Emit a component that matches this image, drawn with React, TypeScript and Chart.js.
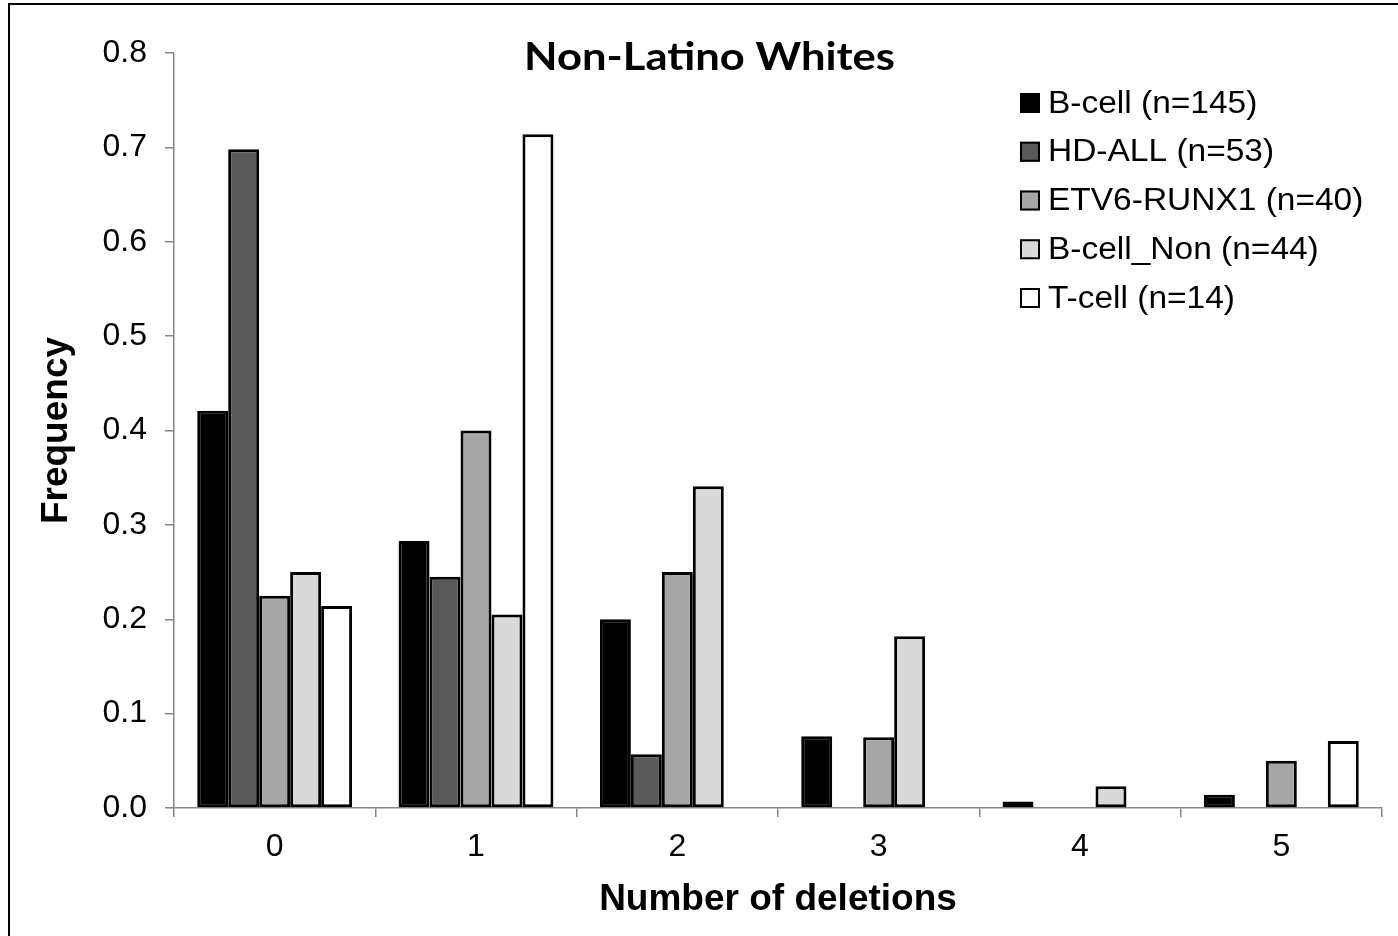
import React, { useEffect, useRef } from "react";
import { Chart, registerables } from "chart.js";

Chart.register(...registerables);

const categories = ["0", "1", "2", "3", "4", "5"];
const seriesNames = [
  "B-cell (n=145)",
  "HD-ALL (n=53)",
  "ETV6-RUNX1 (n=40)",
  "B-cell_Non (n=44)",
  "T-cell (n=14)",
];
const bCell = [0.421, 0.283, 0.2, 0.076, 0.007, 0.014];
const hdAll = [0.698, 0.245, 0.057, 0, 0, 0];
const etv6 = [0.225, 0.4, 0.25, 0.075, 0, 0.05];
const bCellNon = [0.25, 0.205, 0.341, 0.182, 0.023, 0];
const tCell = [0.214, 0.714, 0, 0, 0, 0.071];
const seriesValues = [bCell, hdAll, etv6, bCellNon, tCell];
const seriesColors = ["#000000", "#595959", "#a6a6a6", "#d9d9d9", "#ffffff"];
const yTicks = [0, 0.1, 0.2, 0.3, 0.4, 0.5, 0.6, 0.7, 0.8];

const titleText = "Non-Latino Whites";
const xTitle = "Number of deletions";
const yTitle = "Frequency";

const AXIS_GRAY = "#868686";

const decorPlugin = {
  id: "decor",
  afterDraw(chart: any) {
    const ctx = chart.ctx;
    ctx.save();
    // frame
    ctx.strokeStyle = "#000";
    ctx.lineWidth = 2;
    ctx.strokeRect(9, 4, chart.width + 20, chart.height + 20);

    // title
    ctx.fillStyle = "#000";
    ctx.font = "bold 39px Lato, 'Open Sans', sans-serif";
    ctx.textBaseline = "alphabetic";
    ctx.textAlign = "left";
    const tw = ctx.measureText(titleText).width;
    const targetW = 371;
    const sx = targetW / tw;
    ctx.save();
    ctx.translate(709.5 - targetW / 2, 70);
    ctx.scale(sx, 1);
    ctx.fillText(titleText, 0, 0);
    ctx.restore();

    // legend
    const boxX = 1020;
    const rowY0 = 103;
    const rowStep = 48.75;
    chart.data.datasets.forEach((ds: any, i: number) => {
      const cy = rowY0 + i * rowStep;
      ctx.fillStyle = ds.backgroundColor;
      ctx.fillRect(boxX, cy - 10, 20, 20);
      ctx.strokeStyle = "#000";
      ctx.lineWidth = 2;
      ctx.strokeRect(boxX + 1, cy - 9, 18, 18);
      ctx.fillStyle = "#000";
      ctx.font = "31px 'Liberation Sans', Arial, sans-serif";
      ctx.textBaseline = "middle";
      ctx.save();
      ctx.translate(1048, cy + 1);
      ctx.scale(1.08, 1);
      ctx.fillText(ds.label, 0, 0);
      ctx.restore();
    });
    ctx.restore();
  },
};

export default function App() {
  const ref = useRef<HTMLCanvasElement>(null);

  useEffect(() => {
    document.body.style.margin = "0";
    const canvas = ref.current!;
    const chart = new Chart(canvas, {
      type: "bar",
      data: {
        labels: categories,
        datasets: seriesValues.map((vals, i) => ({
          label: seriesNames[i],
          data: vals,
          backgroundColor: seriesColors[i],
          borderColor: "#000000",
          borderWidth: (c: any) => (c.raw === 0 ? 0 : 3),
          borderSkipped: false,
          barPercentage: 1,
          categoryPercentage: 5 / 6.5,
        })),
      },
      options: {
        responsive: false,
        animation: false,
        layout: { padding: { left: 0, right: 16, top: 53, bottom: 0 } },
        plugins: {
          legend: { display: false },
          title: { display: false },
          tooltip: { enabled: false },
        },
        scales: {
          x: {
            type: "category",
            offset: true,
            grid: {
              display: true,
              drawOnChartArea: false,
              drawTicks: true,
              tickLength: 9,
              color: AXIS_GRAY,
              lineWidth: 1.5,
              offset: true,
            },
            border: { display: true, color: AXIS_GRAY, width: 1.5 },
            ticks: {
              color: "#000",
              padding: 11,
              font: { family: "'Liberation Sans', Arial, sans-serif", size: 32 },
            },
            title: {
              display: true,
              text: xTitle,
              color: "#000",
              font: { family: "'Liberation Sans', Arial, sans-serif", size: 37, weight: "bold" },
              padding: { top: 0, bottom: 14 },
            },
            afterFit(scale: any) {
              scale.height = 128;
            },
          },
          y: {
            type: "linear",
            min: 0,
            max: 0.8,
            afterBuildTicks(scale: any) {
              scale.ticks = yTicks.map((v) => ({ value: v }));
            },
            grid: {
              display: true,
              drawOnChartArea: false,
              drawTicks: true,
              tickLength: 9,
              color: AXIS_GRAY,
              lineWidth: 1.5,
            },
            border: { display: true, color: AXIS_GRAY, width: 1.5 },
            ticks: {
              color: "#000",
              padding: 18,
              font: { family: "'Liberation Sans', Arial, sans-serif", size: 32 },
              callback: (v: any) => Number(v).toFixed(1),
            },
            title: {
              display: true,
              text: yTitle,
              color: "#000",
              font: { family: "'Liberation Sans', Arial, sans-serif", size: 37, weight: "bold" },
              padding: { top: 35, bottom: 0 },
            },
            afterFit(scale: any) {
              scale.width = 174;
            },
          },
        },
      },
      plugins: [decorPlugin],
    });
    return () => chart.destroy();
  }, []);

  return (
    <div style={{ position: "absolute", left: 0, top: 0, width: 1398, height: 936 }}>
      <canvas ref={ref} width={1398} height={936} style={{ width: 1398, height: 936, display: "block" }} />
    </div>
  );
}
